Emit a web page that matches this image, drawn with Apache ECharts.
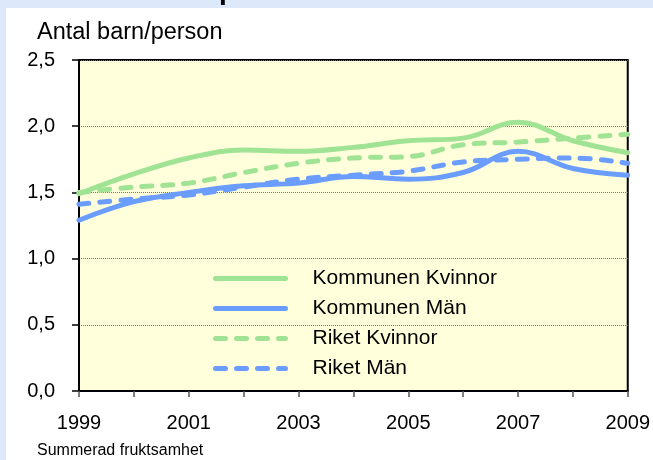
<!DOCTYPE html>
<html>
<head>
<meta charset="utf-8">
<script src="https://cdn.jsdelivr.net/npm/echarts@6/dist/echarts.min.js"></script>
<style>
html,body{margin:0;padding:0;background:#dde9fa;}
#chart{width:653px;height:460px;}
</style>
</head>
<body>
<div id="chart"></div>
<script>
var years = ['1999','2000','2001','2002','2003','2004','2005','2006','2007','2008','2009'];
var yTicks = [0, 0.5, 1.0, 1.5, 2.0, 2.5];
var kommunenKvinnor = [1.49, 1.64, 1.76, 1.82, 1.81, 1.84, 1.89, 1.91, 2.03, 1.89, 1.80];
var kommunenMan     = [1.29, 1.43, 1.50, 1.55, 1.57, 1.62, 1.60, 1.65, 1.81, 1.68, 1.63];
var riketKvinnor    = [1.50, 1.54, 1.57, 1.65, 1.72, 1.76, 1.77, 1.86, 1.88, 1.91, 1.94];
var riketMan        = [1.41, 1.45, 1.48, 1.54, 1.60, 1.63, 1.66, 1.73, 1.75, 1.76, 1.72];
var seriesNames = ['Kommunen Kvinnor', 'Kommunen Män', 'Riket Kvinnor', 'Riket Män'];
var yTitle = 'Antal barn/person';
var xTitle = 'Summerad fruktsamhet';

var GREEN = '#a0e394';
var BLUE = '#6a9dff';
var FONT = '"Liberation Sans", Arial, sans-serif';

var chart = echarts.init(document.getElementById('chart'), null, {renderer: 'canvas'});

function mk(name, data, color, dashed) {
  return {
    name: name, type: 'line', data: data, smooth: 0.4, symbol: 'none',
    lineStyle: {color: color, width: 5, type: dashed ? [10, 11] : 'solid', cap: 'round'},
    itemStyle: {color: color},
    z: 3
  };
}

chart.setOption({
  animation: false,
  backgroundColor: 'transparent',
  graphic: [
    {type: 'rect', left: 6, top: 8, shape: {width: 700, height: 500}, style: {fill: '#ffffff'}, z: -10, silent: true},
    {type: 'text', x: 219, y: -9, style: {text: 'p', font: 'bold 28px ' + FONT, fill: '#000', textVerticalAlign: 'middle'}, z: 10},
    {type: 'text', x: 37, y: 33, style: {text: yTitle, font: '23.5px ' + FONT, fill: '#000', textVerticalAlign: 'middle'}},
    {type: 'text', x: 37, y: 451, style: {text: xTitle, font: '16px ' + FONT, fill: '#000', textVerticalAlign: 'middle'}}
  ],
  grid: {left: 79, right: 24, top: 60, bottom: 69, show: true, backgroundColor: '#ffffdb', borderColor: '#000', borderWidth: 2},
  legend: {
    orient: 'vertical', left: 208, top: 263,
    data: seriesNames,
    itemWidth: 70, itemHeight: 14, itemGap: 9,
    itemStyle: {opacity: 0},
    lineStyle: {width: 'inherit', type: 'inherit', cap: 'round'},
    textStyle: {fontFamily: FONT, fontSize: 21, color: '#000', padding: [0, 0, 0, 22]}
  },
  xAxis: {
    type: 'category', data: years, boundaryGap: false,
    axisLine: {lineStyle: {color: '#000', width: 2}},
    axisTick: {show: true, interval: 0, length: 6, lineStyle: {color: '#555', width: 1.5}},
    axisLabel: {interval: 1, margin: 22, fontFamily: FONT, fontSize: 20, color: '#000'},
    splitLine: {show: false}
  },
  yAxis: {
    type: 'value', min: 0, max: 2.5, interval: 0.5,
    axisLine: {show: true, lineStyle: {color: '#000', width: 2}},
    axisTick: {show: true, length: 7, lineStyle: {color: '#000', width: 1.5}},
    axisLabel: {margin: 24, fontFamily: FONT, fontSize: 20, color: '#000',
      formatter: function (v) { return v.toFixed(1).replace('.', ','); }},
    splitLine: {show: true, lineStyle: {color: '#777', width: 1, type: 'dotted'}}
  },
  series: [
    mk(seriesNames[0], kommunenKvinnor, GREEN, false),
    mk(seriesNames[1], kommunenMan, BLUE, false),
    mk(seriesNames[2], riketKvinnor, GREEN, true),
    mk(seriesNames[3], riketMan, BLUE, true)
  ]
});
</script>
</body>
</html>
